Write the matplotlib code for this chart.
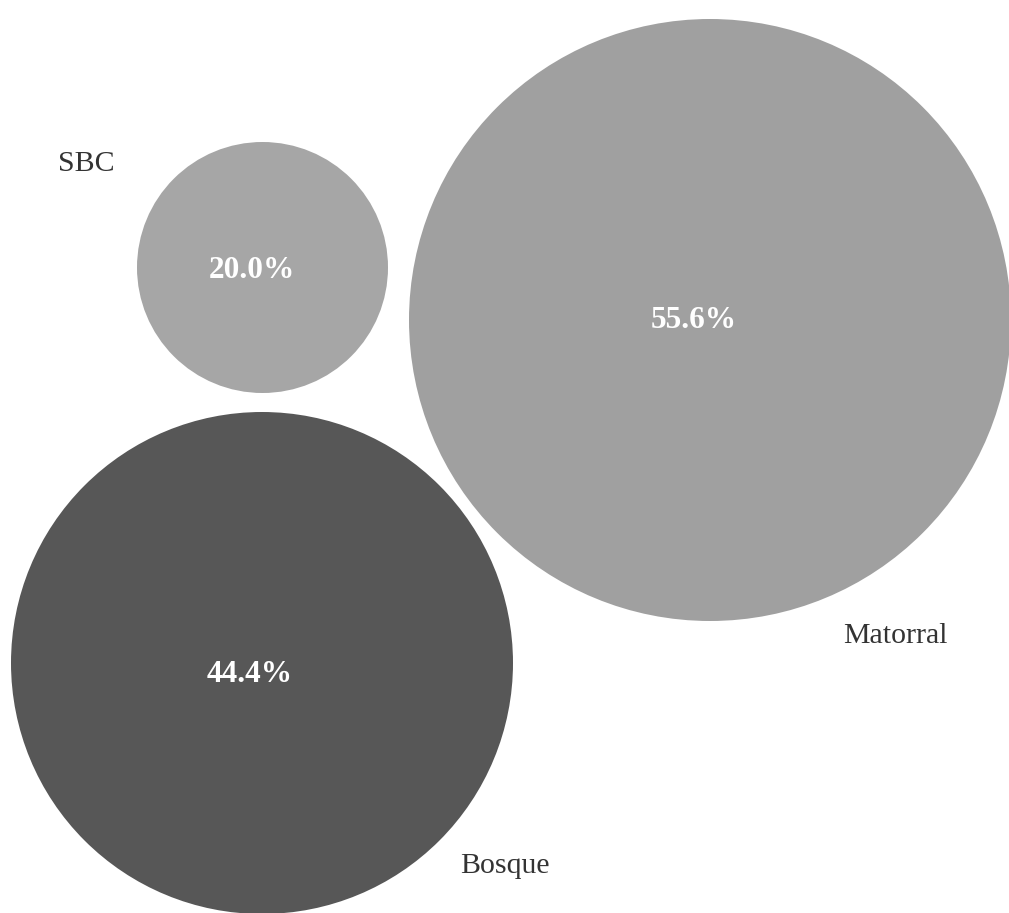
import matplotlib
matplotlib.use('Agg')
import matplotlib.pyplot as plt
from matplotlib.patches import Circle

# Data
CATEGORIES = ['SBC', 'Matorral', 'Bosque']
VALUES = [20.0, 55.6, 44.4]

# Layout in pixel units (figure is 1009 x 913)
CENTERS = [(262.5, 267.5), (710, 320), (262, 663)]
RADII = [125.5, 301, 251]
COLORS = ['#a6a6a6', '#a0a0a0', '#575757']
VALUE_POS = [(252, 271), (694, 320), (250, 674)]
LABEL_POS = [(86, 164), (895, 636), (505, 866)]

W, H = 1009, 913


def main():
    fig = plt.figure(figsize=(W / 100, H / 100), dpi=100)
    ax = fig.add_axes([0, 0, 1, 1])
    ax.set_xlim(0, W)
    ax.set_ylim(H, 0)
    ax.set_aspect('equal')
    ax.axis('off')

    for i, cat in enumerate(CATEGORIES):
        ax.add_patch(Circle(CENTERS[i], RADII[i], facecolor=COLORS[i],
                            edgecolor='none'))
        ax.text(VALUE_POS[i][0], VALUE_POS[i][1], '{:.1f}%'.format(VALUES[i]),
                ha='center', va='center', color='white', fontsize=22.5,
                fontweight='bold', family='Liberation Serif')
        ax.text(LABEL_POS[i][0], LABEL_POS[i][1], cat,
                ha='center', va='center', color='#333333', fontsize=21.5,
                family='Liberation Serif')

    fig.savefig('out.png', dpi=100, facecolor='white')


if __name__ == '__main__':
    main()
